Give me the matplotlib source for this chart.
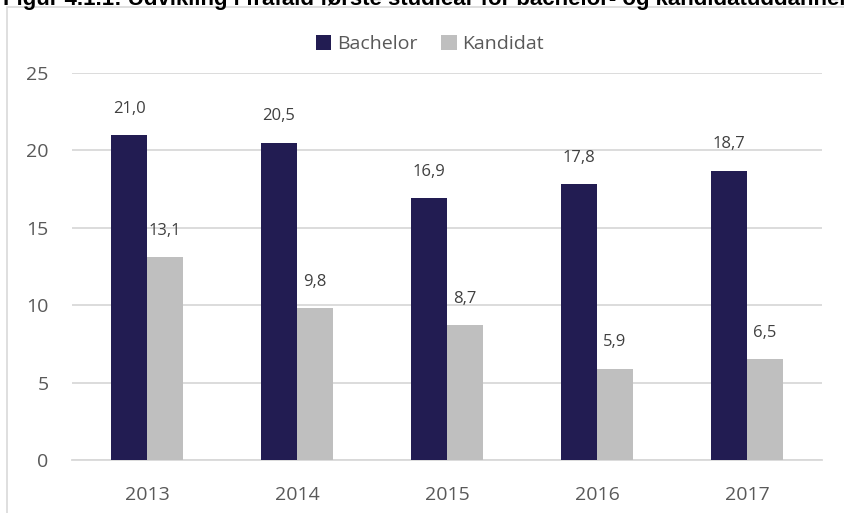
import numpy as np
import matplotlib.pyplot as plt
from matplotlib.patches import Rectangle

years = ["2013", "2014", "2015", "2016", "2017"]
bachelor = [21.0, 20.5, 16.9, 17.8, 18.7]
kandidat = [13.1, 9.8, 8.7, 5.9, 6.5]
yticks = [0, 5, 10, 15, 20, 25]

navy = "#221C52"
grey = "#BFBFBF"
txt = "#595959"

plt.rcParams['font.family'] = ['Open Sans', 'DejaVu Sans']

fig = plt.figure(figsize=(8.44, 5.13), dpi=100)
ax = fig.add_axes([72/844, 1 - 460/513, 750/844, 387/513])

# chart frame (runs off the right and bottom of the picture)
fig.patches.append(Rectangle((7/844, -0.1), 1.2, 1 - 7/513 + 0.1, transform=fig.transFigure,
                             fill=False, edgecolor="#D9D9D9", linewidth=1.2))

# figure caption, cut by the top edge as in the source
fig.text(0.004, 1 - 4.5/513, "Figur 4.1.1: Udvikling i frafald første studieår for bachelor- og kandidatuddannelser",
         ha='left', va='baseline', fontsize=16, fontweight='bold', family='Liberation Sans', color='black')

x = np.arange(len(years))
w = 0.24
b1 = ax.bar(x - w/2, bachelor, w, color=navy, label="Bachelor", zorder=3)
b2 = ax.bar(x + w/2, kandidat, w, color=grey, label="Kandidat", zorder=3)

for bars, vals in ((b1, bachelor), (b2, kandidat)):
    for r, v in zip(bars, vals):
        ax.annotate(f"{v:.1f}".replace(".", ","), (r.get_x() + r.get_width()/2, v),
                    xytext=(0, 19), textcoords='offset points', ha='center', va='center',
                    fontsize=12, color="#404040")

ax.set_xlim(-0.5, len(years) - 0.5)
ax.set_ylim(0, 25)
ax.set_yticks(yticks)
ax.set_xticks(x)
ax.set_xticklabels(years)
ax.yaxis.grid(True, color="#D9D9D9", linewidth=1.3, zorder=0)
ax.set_axisbelow(True)
for s in ["top", "right", "left"]:
    ax.spines[s].set_visible(False)
ax.spines["bottom"].set_color("#D9D9D9")
ax.spines["bottom"].set_linewidth(1.3)
ax.tick_params(axis='both', length=0, labelsize=14, labelcolor=txt)
ax.tick_params(axis='y', pad=17)
ax.tick_params(axis='x', pad=19)

fig.legend(handles=[b1, b2], loc='center', bbox_to_anchor=(430/844, 1 - 44/513), ncol=2,
           frameon=False, fontsize=14, labelcolor=txt, handlelength=0.8, handleheight=0.8,
           handletextpad=0.3, columnspacing=1.2)

fig.savefig("out.png", dpi=100)
